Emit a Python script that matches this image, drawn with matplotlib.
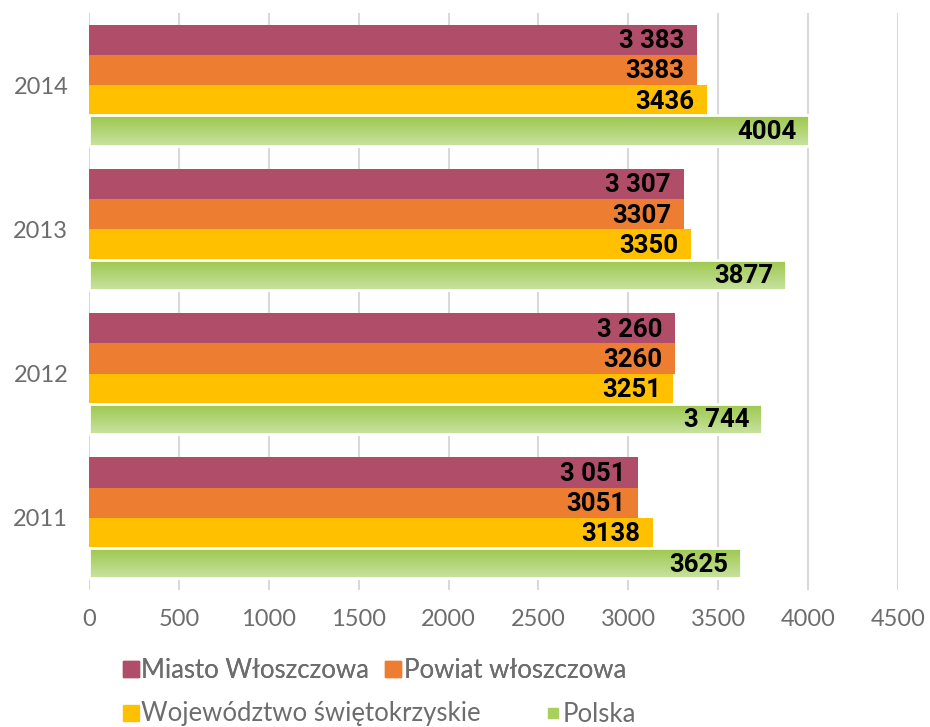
import numpy as np
import matplotlib.pyplot as plt
from matplotlib.colors import LinearSegmentedColormap
from matplotlib.lines import Line2D

years = ['2011', '2012', '2013', '2014']
miasto = [3051, 3260, 3307, 3383]
powiat = [3051, 3260, 3307, 3383]
woj = [3138, 3251, 3350, 3436]
polska = [3625, 3744, 3877, 4004]

miasto_lab = ['3 051', '3 260', '3 307', '3 383']
powiat_lab = ['3051', '3260', '3307', '3383']
woj_lab = ['3138', '3251', '3350', '3436']
polska_lab = ['3625', '3 744', '3877', '4004']

names = ['Miasto Włoszczowa', 'Powiat włoszczowa', 'Województwo świętokrzyskie', 'Polska']
colors = ['#B04E6A', '#ED7D31', '#FFC000', '#A9D05E']

fig = plt.figure(figsize=(9.3, 7.27), dpi=100)
ax = fig.add_axes([89 / 930, 1 - 590 / 727, (898 - 89) / 930, (590 - 13) / 727])

y = np.arange(len(years))
h = 0.21
offs = [1.5 * h, 0.5 * h, -0.5 * h, -1.5 * h]
series = [miasto, powiat, woj, polska]
labels = [miasto_lab, powiat_lab, woj_lab, polska_lab]

green = LinearSegmentedColormap.from_list('g', ['#9CC74A', '#C8E2A0'])
grad = np.linspace(0, 1, 64).reshape(-1, 1)

for i in range(4):
    if i < 3:
        ax.barh(y + offs[i], series[i], height=h, color=colors[i], zorder=2)
    else:
        bars = ax.barh(y + offs[i], series[i], height=h, facecolor='none',
                       edgecolor='white', linewidth=2, zorder=3)
        for b in bars:
            x0, y0 = b.get_x(), b.get_y()
            im = ax.imshow(grad, cmap=green, aspect='auto', zorder=2,
                           extent=[x0, x0 + b.get_width(), y0, y0 + b.get_height()])
            im.set_clip_path(b)
    for j in range(len(years)):
        ax.annotate(labels[i][j], (series[i][j], y[j] + offs[i]), xytext=(-9, -1),
                    textcoords='offset points', ha='right', va='center',
                    fontsize=18.5, fontweight='bold', color='black',
                    family=['Roboto', 'DejaVu Sans'], zorder=4)

ax.set_xlim(0, 4500)
ax.set_ylim(-0.5, 3.5)
ax.set_xticks(range(0, 4501, 500))
ax.set_yticks(y)
ax.set_yticklabels(years)
ax.grid(axis='x', color='#d9d9d9', linewidth=1.5, zorder=0)
ax.set_axisbelow(True)
for s in ax.spines.values():
    s.set_visible(False)
ax.tick_params(length=0, labelsize=17, labelcolor='#6d6d6d')
ax.tick_params(axis='x', pad=14)
ax.tick_params(axis='y', pad=15)
for t in ax.get_xticklabels() + ax.get_yticklabels():
    t.set_family('Lato')

sizes = [11, 11, 11, 7]
handles = [Line2D([], [], marker='s', linestyle='', markersize=sizes[k], color=colors[k])
           for k in range(4)]
leg_kw = dict(loc='center left', ncol=2, frameon=False, labelcolor='#6d6d6d',
              handletextpad=0.1, borderaxespad=0, borderpad=0, handlelength=0.6,
              prop={'family': 'Lato', 'size': 18.5})
leg1 = fig.legend(handles[:2], names[:2], bbox_to_anchor=(123 / 930, 1 - 670 / 727),
                  columnspacing=0.65, **leg_kw)
fig.add_artist(leg1)
leg2 = fig.legend(handles[2:], names[2:], bbox_to_anchor=(123 / 930, 1 - 714 / 727),
                  columnspacing=2.5, **leg_kw)

fig.savefig('out.png', dpi=100)
